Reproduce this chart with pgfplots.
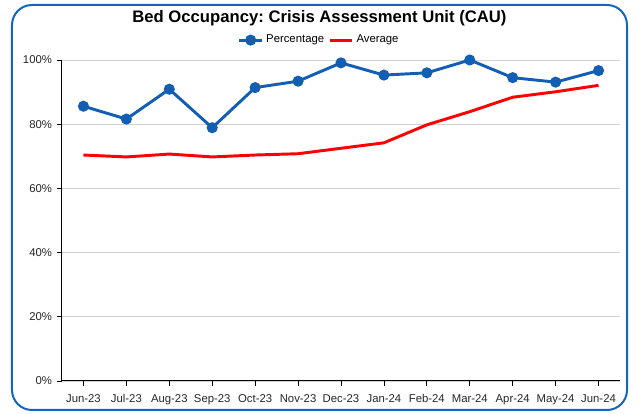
\documentclass[border=0pt]{standalone}
\usepackage{pgfplots}
\pgfplotsset{compat=1.18}
\usepackage{fontspec}
\setmainfont{Liberation Sans}
\frenchspacing
\definecolor{cauBlue}{RGB}{17,94,180}
\definecolor{cauRed}{RGB}{255,0,0}
\definecolor{frameBlue}{RGB}{21,101,192}
\begin{document}
\begin{tikzpicture}
\useasboundingbox (-46.5pt,-24.75pt) rectangle (432.75pt,285.75pt);
\begin{axis}[
  scale only axis, width=418.5pt, height=240.75pt,
  xmin=-0.5, xmax=12.5, ymin=0, ymax=100,
  xtick={0,...,12},
  xticklabels={Jun-23,Jul-23,Aug-23,Sep-23,Oct-23,Nov-23,Dec-23,Jan-24,Feb-24,Mar-24,Apr-24,May-24,Jun-24},
  ytick={0,20,...,100}, yticklabel={\pgfmathprintnumber{\tick}\%},
  axis x line*=bottom, axis y line*=left,
  axis line style={black, line width=0.75pt, -},
  tick align=outside, major tick length=4pt,
  tick style={black, line width=0.6pt},
  ymajorgrids, grid style={gray!35, line width=0.6pt},
  tick label style={font=\fontsize{8.5}{10}\selectfont, text=black!85},
  xticklabel style={text height=1.6ex, text depth=0.3ex},
  /pgf/number format/assume math mode=true,
  clip=false,
  legend style={at={(0.4615,1.062)}, anchor=center, draw=none, fill=none,
    font=\fontsize{8.5}{10}\selectfont, legend columns=2,
    /tikz/every even column/.append style={column sep=1pt}},
  legend cell align=left,
]
\addplot[cauBlue, line width=2.2pt, mark=*, mark size=3pt] coordinates {
  (0,85.6) (1,81.6) (2,90.9) (3,78.9) (4,91.4) (5,93.4) (6,99.1)
  (7,95.3) (8,96.0) (9,100.0) (10,94.5) (11,93.1) (12,96.7)};
\addlegendentry{Percentage}
\addplot[cauRed, line width=2.2pt] coordinates {
  (0,70.4) (1,69.8) (2,70.7) (3,69.8) (4,70.4) (5,70.8) (6,72.5)
  (7,74.2) (8,79.8) (9,83.9) (10,88.4) (11,90.1) (12,92.1)};
\addlegendentry{Average}
\end{axis}
\draw[frameBlue, line width=1.5pt, rounded corners=15pt] (-37.5pt,-21.75pt) rectangle (423.75pt,282pt);
\node[font=\bfseries\fontsize{12.5}{14}\selectfont] at (193.1pt,272.25pt) {Bed Occupancy: Crisis Assessment Unit (CAU)};
\end{tikzpicture}
\end{document}
